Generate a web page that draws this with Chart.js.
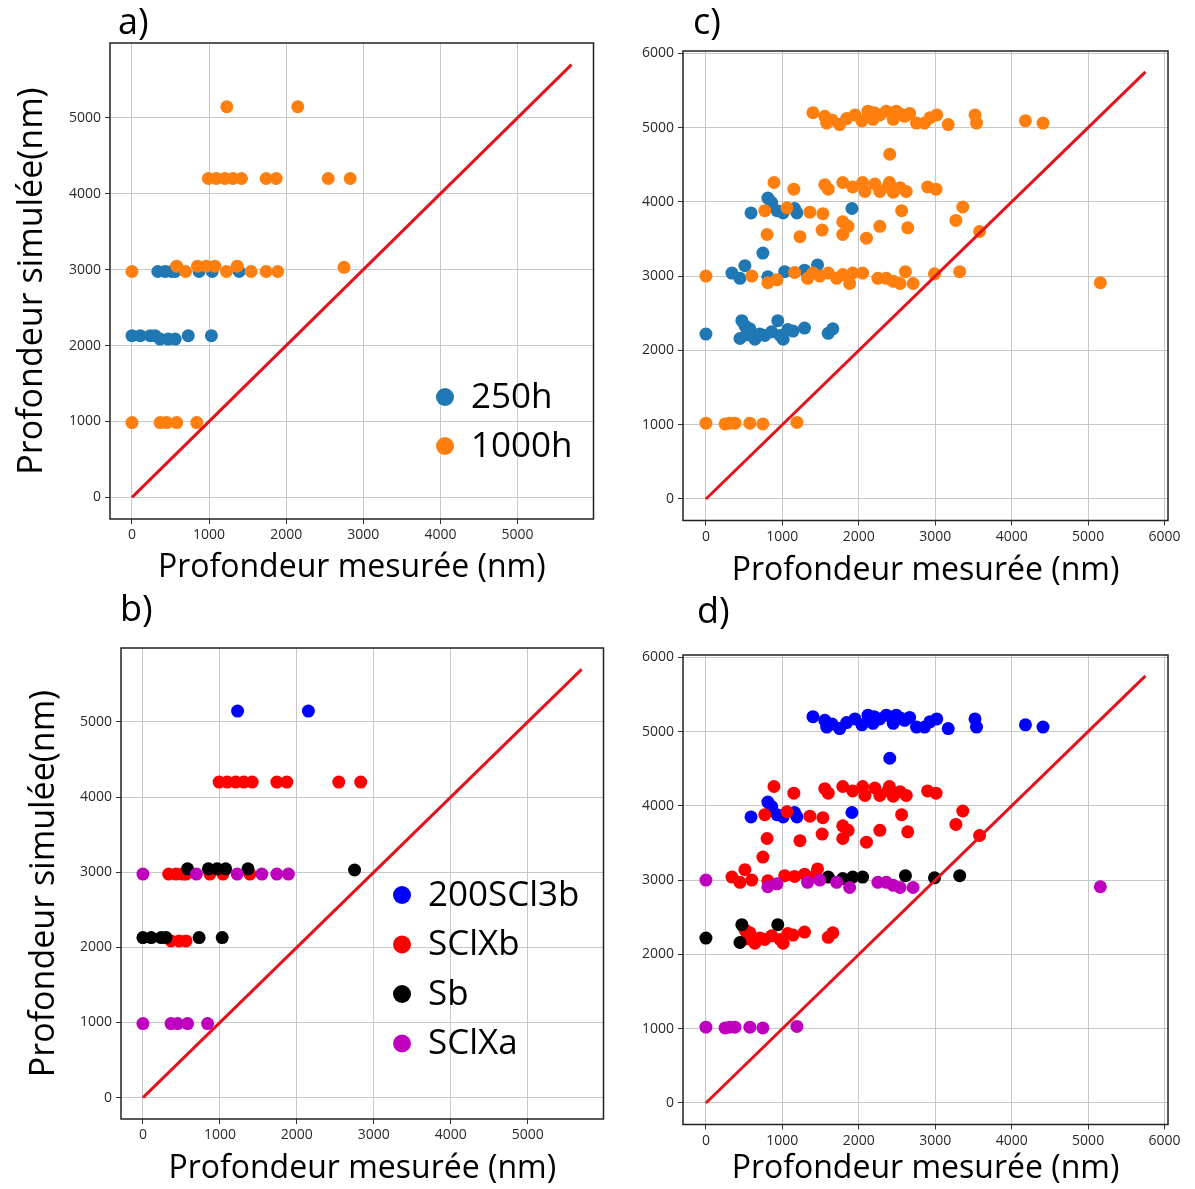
<!DOCTYPE html>
<html>
<head>
<meta charset="utf-8">
<script src="https://cdn.jsdelivr.net/npm/chart.js@4.4.1/dist/chart.umd.min.js"></script>
<style>
  html, body { margin: 0; padding: 0; background: #fff; }
  #wrap { position: relative; width: 1195px; height: 1189px; overflow: hidden; }
  canvas { position: absolute; }
  .tag { position: absolute; font-family: 'Open Sans', sans-serif; font-size: 36px; line-height: 1; color: #000; }
</style>
</head>
<body>
<div id="wrap">
  <canvas id="ca"></canvas>
  <canvas id="cb"></canvas>
  <canvas id="cc"></canvas>
  <canvas id="cd"></canvas>
  <div class="tag" style="left:118px;top:3px">a)</div>
  <div class="tag" style="left:693px;top:3px">c)</div>
  <div class="tag" style="left:120px;top:590px">b)</div>
  <div class="tag" style="left:697px;top:592px">d)</div>
</div>
<script>
// ---- panels a) and b): [measured depth, simulated depth] in nm ----
const ab_SCl3b_1000h = [[1230, 5145], [2150, 5145]];
const ab_SClXb_1000h = [[990, 4200], [1095, 4200], [1205, 4200], [1310, 4200], [1420, 4200],
  [1740, 4200], [1870, 4200], [2545, 4200], [2830, 4200]];
const ab_SClXb_250h = [[335, 2975], [430, 2975], [515, 2975], [560, 2975], [870, 2975], [1040, 2975], [1390, 2975],
  [365, 2085], [470, 2085], [560, 2085]];
const ab_Sb_1000h = [[580, 3045], [850, 3045], [965, 3045], [1075, 3045], [1365, 3045], [2750, 3030]];
const ab_Sb_250h = [[0, 2130], [108, 2130], [237, 2130], [300, 2130], [730, 2130], [1030, 2130]];
const ab_SClXa_1000h = [[0, 985], [365, 985], [450, 985], [580, 985], [840, 985],
  [0, 2975], [695, 2975], [1225, 2975], [1545, 2975], [1740, 2975], [1890, 2975]];

// ---- panels c) and d) ----
const cd_SCl3b_1000h = [[1400, 5200], [1555, 5150], [1580, 5060], [1650, 5100], [1750, 5040], [1840, 5120],
  [1950, 5170], [2040, 5090], [2120, 5220], [2185, 5110], [2200, 5200], [2275, 5170], [2360, 5220],
  [2450, 5110], [2490, 5220], [2550, 5180], [2600, 5150], [2665, 5190], [2755, 5060], [2860, 5060],
  [2930, 5130], [3020, 5170], [3170, 5040], [3520, 5170], [3540, 5060], [4180, 5090], [4410, 5060],
  [2405, 4640]];
const cd_SCl3b_250h = [[590, 3850], [810, 4050], [860, 3990], [930, 3880], [1010, 3850], [1160, 3910],
  [1190, 3850], [1910, 3910]];
const cd_SClXb_1000h = [[890, 4260], [1150, 4170], [1555, 4230], [1600, 4170], [1790, 4260], [1920, 4200],
  [2050, 4260], [2080, 4140], [2210, 4240], [2275, 4140], [2380, 4200], [2400, 4260], [2450, 4130],
  [2540, 4190], [2620, 4140], [2900, 4200], [3010, 4170],
  [770, 3880], [1060, 3920], [1360, 3860], [1530, 3840], [2560, 3880], [3360, 3930],
  [800, 3560], [1230, 3530], [1520, 3620], [1790, 3730], [1860, 3670], [1790, 3560], [2100, 3510],
  [2275, 3670], [2640, 3650], [3270, 3750], [3580, 3600],
  [600, 3000], [1160, 3050], [1400, 3040]];
const cd_SClXb_250h = [[510, 2330], [530, 2210], [575, 2290], [600, 2200], [640, 2150], [705, 2220],
  [770, 2200], [860, 2250], [970, 2200], [1010, 2150], [1070, 2280], [1140, 2260], [1290, 2300],
  [1600, 2230], [1660, 2290],
  [340, 3040], [445, 2970], [510, 3140], [810, 2990], [1030, 3060], [1290, 3080], [1460, 3150],
  [745, 3310]];
const cd_Sb_250h = [[0, 2220], [470, 2400], [445, 2160], [940, 2400]];
const cd_Sb_1000h = [[1600, 3040], [1790, 3020], [1920, 3040], [2050, 3040], [2610, 3060], [2990, 3030],
  [3320, 3060]];
const cd_SClXa_1000h = [[0, 1020], [250, 1010], [310, 1020], [380, 1020], [575, 1020], [745, 1010], [1190, 1030],
  [0, 3000], [810, 2910], [930, 2950], [1330, 2970], [1490, 3000], [1710, 2970], [1880, 2900],
  [2250, 2970], [2360, 2970], [2450, 2930], [2540, 2900], [2710, 2900], [5160, 2910]];

// y = x reference lines
const diagAB = [[0, 0], [5700, 5700]];
const diagCD = [[0, 0], [5750, 5750]];

const ticksAB = [0, 1000, 2000, 3000, 4000, 5000];
const ticksCD = [0, 1000, 2000, 3000, 4000, 5000, 6000];

const xLabel = 'Profondeur mesurée (nm)';
const yLabel = 'Profondeur simulée(nm)';

const C250 = '#1f77b4', C1000 = '#ff7f0e';
const CBLUE = '#0000ff', CRED = '#ff0000', CBLACK = '#000000', CPURP = '#bf00bf';

const pts = (...groups) => groups.flat().map(([x, y]) => ({ x, y }));

const framePlugin = {
  id: 'frame',
  afterDatasetsDraw(chart) {
    const { ctx, chartArea: a } = chart;
    ctx.save();
    ctx.strokeStyle = '#222';
    ctx.lineWidth = 1.5;
    ctx.strokeRect(a.left, a.top, a.right - a.left, a.bottom - a.top);
    ctx.restore();
  }
};

const insideLegend = {
  id: 'insideLegend',
  afterDraw(chart, args, opts) {
    if (!opts || opts.x === undefined) return;
    const ctx = chart.ctx;
    ctx.save();
    ctx.font = opts.size + "px 'Open Sans'";
    ctx.textBaseline = 'middle';
    let y = opts.y;
    chart.data.datasets.filter(d => d.label).forEach(d => {
      ctx.fillStyle = d.backgroundColor;
      ctx.beginPath();
      ctx.arc(opts.x, y, opts.r, 0, Math.PI * 2);
      ctx.fill();
      ctx.fillStyle = '#000';
      ctx.fillText(d.label, opts.x + opts.gap, y + 1);
      y += opts.step;
    });
    ctx.restore();
  }
};

const tickFont = { family: 'Open Sans', size: 14 };
const xTitleFont = { family: 'Open Sans', size: 32 };
const yTitleFont = { family: 'Open Sans', size: 34 };

function scatterSet(label, data, color, order) {
  return { label, data, backgroundColor: color, borderWidth: 0, pointRadius: 6.5, pointHoverRadius: 6.5, order };
}

function diagSet(data) {
  return { data: pts(data), showLine: true, borderColor: '#e5121b', borderWidth: 3, pointRadius: 0, order: 0 };
}

function makeChart(id, p) {
  const cv = document.getElementById(id);
  cv.width = p.w; cv.height = p.h;
  cv.style.left = p.left + 'px'; cv.style.top = p.top + 'px';
  cv.style.width = p.w + 'px'; cv.style.height = p.h + 'px';
  const grid = { color: '#c8c8c8', lineWidth: 1, tickLength: 5, tickColor: '#333' };
  new Chart(cv.getContext('2d'), {
    type: 'scatter',
    data: { datasets: p.datasets },
    plugins: [framePlugin, insideLegend],
    options: {
      responsive: false,
      animation: false,
      layout: { padding: { top: p.padTop, right: p.padRight, left: 0, bottom: 0 } },
      plugins: {
        legend: { display: false },
        tooltip: { enabled: false },
        insideLegend: p.legend || {}
      },
      scales: {
        x: {
          type: 'linear', min: p.xMin, max: p.xMax,
          afterBuildTicks: s => { s.ticks = p.ticks.map(v => ({ value: v })); },
          afterFit: s => { s.height = p.xHeight; },
          grid, border: { display: false },
          ticks: { font: tickFont, color: '#2a2a2a', padding: 3, maxRotation: 0, callback: v => String(v) },
          title: { display: true, text: xLabel, font: xTitleFont, color: '#000', padding: { top: 0, bottom: p.xTitlePad } }
        },
        y: {
          type: 'linear', min: p.yMin, max: p.yMax,
          afterBuildTicks: s => { s.ticks = p.ticks.map(v => ({ value: v })); },
          afterFit: s => { s.width = p.yWidth; },
          grid, border: { display: false },
          ticks: { font: tickFont, color: '#2a2a2a', padding: 4, callback: v => String(v) },
          title: { display: p.yTitle, text: yLabel, font: yTitleFont, color: '#000', padding: { top: p.yTitlePad || 0, bottom: 0 } }
        }
      }
    }
  });
}

// a) by ageing time
makeChart('ca', {
  left: 0, top: 0, w: 600, h: 595, padTop: 43, padRight: 2, yWidth: 110, xHeight: 76,
  xMin: -285, xMax: 5985, yMin: -285, yMax: 5985, ticks: ticksAB,
  yTitle: true, yTitlePad: 12, xTitlePad: 8,
  legend: { x: 445, y: 397, step: 49, r: 9, gap: 26, size: 35 },
  datasets: [
    diagSet(diagAB),
    scatterSet('250h', pts(ab_SClXb_250h, ab_Sb_250h), C250, 2),
    scatterSet('1000h', pts(ab_SCl3b_1000h, ab_SClXb_1000h, ab_Sb_1000h, ab_SClXa_1000h), C1000, 1)
  ]
});

// b) by sample
makeChart('cb', {
  left: 0, top: 598, w: 610, h: 591, padTop: 50, padRight: 2, yWidth: 121, xHeight: 70,
  xMin: -285, xMax: 5985, yMin: -285, yMax: 5985, ticks: ticksAB,
  yTitle: true, yTitlePad: 24, xTitlePad: 1,
  legend: { x: 402, y: 297, step: 49.5, r: 9, gap: 26, size: 35 },
  datasets: [
    diagSet(diagAB),
    scatterSet('200SCl3b', pts(ab_SCl3b_1000h), CBLUE, 4),
    scatterSet('SClXb', pts(ab_SClXb_1000h, ab_SClXb_250h), CRED, 3),
    scatterSet('Sb', pts(ab_Sb_1000h, ab_Sb_250h), CBLACK, 2),
    scatterSet('SClXa', pts(ab_SClXa_1000h), CPURP, 1)
  ]
});

// c) by ageing time
makeChart('cc', {
  left: 600, top: 0, w: 595, h: 595, padTop: 51, padRight: 27, yWidth: 83, xHeight: 74.5,
  xMin: -300, xMax: 6045, yMin: -290, yMax: 6030, ticks: ticksCD,
  yTitle: false, xTitlePad: 5,
  datasets: [
    diagSet(diagCD),
    scatterSet('250h', pts(cd_SCl3b_250h, cd_SClXb_250h, cd_Sb_250h), C250, 2),
    scatterSet('1000h', pts(cd_SCl3b_1000h, cd_SClXb_1000h, cd_Sb_1000h, cd_SClXa_1000h), C1000, 1)
  ]
});

// d) by sample
makeChart('cd', {
  left: 600, top: 598, w: 595, h: 591, padTop: 57, padRight: 27, yWidth: 83, xHeight: 64.5,
  xMin: -300, xMax: 6045, yMin: -290, yMax: 6030, ticks: ticksCD,
  yTitle: false, xTitlePad: 1,
  datasets: [
    diagSet(diagCD),
    scatterSet('200SCl3b', pts(cd_SCl3b_1000h, cd_SCl3b_250h), CBLUE, 4),
    scatterSet('SClXb', pts(cd_SClXb_1000h, cd_SClXb_250h), CRED, 3),
    scatterSet('Sb', pts(cd_Sb_1000h, cd_Sb_250h), CBLACK, 2),
    scatterSet('SClXa', pts(cd_SClXa_1000h), CPURP, 1)
  ]
});
</script>
</body>
</html>
